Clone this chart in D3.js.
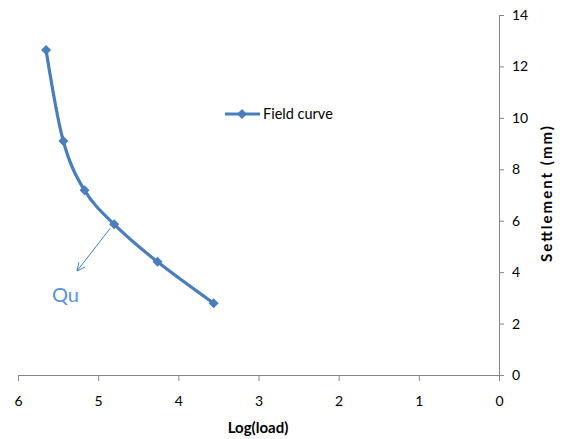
<!DOCTYPE html>
<html><head><meta charset="utf-8">
<script src="https://cdn.jsdelivr.net/npm/d3@7"></script>
<style>body{margin:0;background:#fff}svg{display:block}</style>
</head><body>
<svg id="c" width="566" height="439"></svg>
<script>
const logLoad = [5.65, 5.435, 5.17, 4.80, 4.26, 3.56];
const settlement = [12.64, 9.10, 7.18, 5.86, 4.40, 2.79];
const xTicks = [6, 5, 4, 3, 2, 1, 0];
const yTicks = [0, 2, 4, 6, 8, 10, 12, 14];
const seriesName = "Field curve";
const xTitle = "Log(load)";
const yTitle = "Settlement (mm)";
const annotation = "Qu";

const svg = d3.select("#c");
const font = "Lato, 'Liberation Sans', sans-serif";
const x = d3.scaleLinear().domain([6, 0]).range([18, 499]);
const y = d3.scaleLinear().domain([0, 14]).range([375, 15]);
const blue = "#4a7ebb", axisCol = "#868686";

// x axis
const gx = svg.append("g").attr("transform", `translate(0,${y(0)})`)
  .call(d3.axisBottom(x).tickValues(xTicks).tickFormat(d3.format("d")).tickSize(6).tickSizeOuter(0));
gx.select(".domain").attr("stroke", axisCol);
gx.selectAll(".tick line").attr("stroke", axisCol);
gx.selectAll("text").attr("font-family", font).attr("font-size", 14).attr("fill", "#000")
  .attr("y", 26).attr("dy", "0.35em");

// y axis (right)
const gy = svg.append("g").attr("transform", `translate(${x(0)},0)`)
  .call(d3.axisRight(y).tickValues(yTicks).tickFormat(d3.format("d")).tickSize(5).tickSizeOuter(0));
gy.select(".domain").attr("stroke", axisCol);
gy.selectAll(".tick line").attr("stroke", axisCol);
gy.selectAll("text").attr("font-family", font).attr("font-size", 14).attr("fill", "#000").attr("x", 13);

// titles
svg.append("text").attr("x", 258).attr("y", 433).attr("text-anchor", "middle")
  .attr("font-family", font).attr("font-size", 15).attr("font-weight", "bold").text(xTitle);
svg.append("text").attr("transform", `translate(552,194) rotate(-90)`).attr("text-anchor", "middle")
  .attr("font-family", font).attr("font-size", 15).attr("font-weight", "bold")
  .attr("textLength", 136).attr("lengthAdjust", "spacing").text(yTitle);

// series
const pts = logLoad.map((v, i) => [v, settlement[i]]);
const line = d3.line().x(d => x(d[0])).y(d => y(d[1])).curve(d3.curveCatmullRom.alpha(0));
svg.append("path").datum(pts).attr("d", line).attr("fill", "none").attr("stroke", blue).attr("stroke-width", 3.2);
const marker = d3.symbol().type(d3.symbolSquare).size(50);
svg.selectAll(".m").data(pts).join("path").attr("class", "m")
  .attr("transform", d => `translate(${x(d[0])},${y(d[1])}) rotate(45)`).attr("d", marker).attr("fill", blue);

// legend
svg.append("line").attr("x1", 225).attr("x2", 260).attr("y1", 114).attr("y2", 114).attr("stroke", blue).attr("stroke-width", 3.2);
svg.append("path").attr("transform", "translate(242,114) rotate(45)").attr("d", marker).attr("fill", blue);
svg.append("text").attr("x", 263).attr("y", 119).attr("font-family", font).attr("font-size", 14.5).text(seriesName);

// annotation arrow
const p4 = pts[3];
const ax1 = x(p4[0]) - 4, ay1 = y(p4[1]) + 4, ax2 = 77, ay2 = 271;
svg.append("line").attr("x1", ax1).attr("y1", ay1).attr("x2", ax2).attr("y2", ay2).attr("stroke", blue).attr("stroke-width", 1);
const ang = Math.atan2(ay2 - ay1, ax2 - ax1);
const hl = 9, ha = 0.45;
svg.append("path").attr("d", `M${ax2 - hl*Math.cos(ang - ha)},${ay2 - hl*Math.sin(ang - ha)} L${ax2},${ay2} L${ax2 - hl*Math.cos(ang + ha)},${ay2 - hl*Math.sin(ang + ha)}`)
  .attr("fill", "none").attr("stroke", blue).attr("stroke-width", 1);
svg.append("text").attr("x", 52).attr("y", 302).attr("font-family", font).attr("font-size", 20).attr("fill", "#5b8fd8").text(annotation);
</script>
</body></html>
